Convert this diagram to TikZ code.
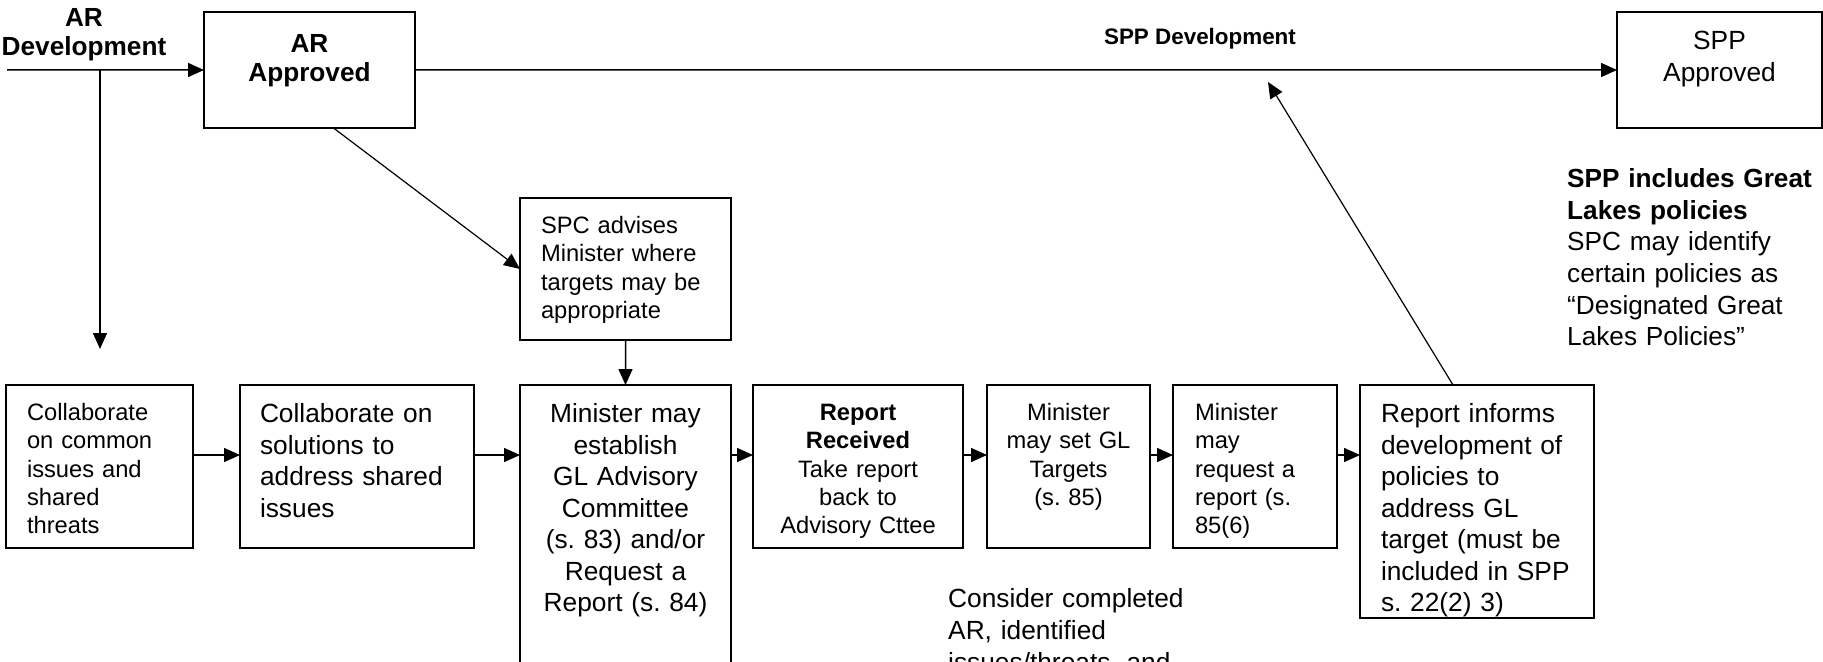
\documentclass[tikz,border=0pt]{standalone}
\usepackage{fontspec}
\setmainfont{Liberation Sans}
\usetikzlibrary{arrows.meta}
\frenchspacing

\begin{document}
\begin{tikzpicture}[x=1bp, y=-1bp,
	box/.style={draw, line width=1.5bp, anchor=north west, inner ysep=0pt, outer sep=0pt},
	small/.style={font=\fontsize{23.8}{28.4}\selectfont, text height=35.5bp},
	big/.style={font=\fontsize{26.4}{31.7}\selectfont, text height=37.5bp},
	heavy/.style={font=\bfseries\fontsize{26.3}{29.5}\selectfont},
	flow/.style={-{Triangle[length=16bp,width=14bp]}, line width=1.5bp},
	note/.style={inner sep=0pt, anchor=base west, align=left}]
	\useasboundingbox (0,0) rectangle (1823,662);
	% top row
	\node[box, heavy, text height=40.5bp, text depth=75.5bp, text width=195bp, inner xsep=8bp, align=center] (arapp) at (204,12) {AR\\ Approved};
	\node[box, big, text depth=78.5bp, text width=189bp, inner xsep=8bp, align=center] (sppapp) at (1617,12) {SPP\\ Approved};
	\node[heavy, inner sep=0pt, text width=170bp, align=center, anchor=base] (ardev) at (84,26.5) {AR\\ Development};
	\node[font=\bfseries\fontsize{22.5}{27}\selectfont, inner sep=0pt, anchor=base] (sppdev) at (1200,45) {SPP Development};
	\node[box, small, text depth=106.5bp, text width=169bp, inner xsep=21bp, align=left] (spc) at (520,198) {SPC advises\\ Minister where\\ targets may be\\ appropriate};
	% bottom row
	\node[box, small, text depth=127.5bp, text width=145bp, inner xsep=21bp, align=left] (common) at (6,385) {Collaborate\\ on common\\ issues and\\ shared\\ threats};
	\node[box, big, text depth=125.5bp, text width=194bp, inner xsep=20bp, align=left] (solutions) at (240,385) {Collaborate on\\ solutions to\\ address shared\\ issues};
	\node[box, big, text depth=300bp, text width=195bp, inner xsep=8bp, align=center] (establish) at (520,385) {Minister may\\ establish\\ GL Advisory\\ Committee\\ (s. 83) and/or\\ Request a\\ Report (s. 84)};
	\node[box, small, text depth=127.5bp, text width=194bp, inner xsep=8bp, align=center] (received) at (753,385) {\textbf{Report}\\ \textbf{Received}\\ Take report\\ back to\\ Advisory Cttee};
	\node[box, small, text depth=127.5bp, text width=147bp, inner xsep=8bp, align=center] (targets) at (987,385) {Minister\\ may set GL\\ Targets\\ (s. 85)};
	\node[box, small, text depth=127.5bp, text width=120bp, inner xsep=22bp, align=left] (request) at (1173,385) {Minister\\ may\\ request a\\ report (s.\\ 85(6)};
	\node[box, big, text depth=195.5bp, text width=192bp, inner xsep=21bp, align=left] (informs) at (1360,385) {Report informs\\ development of\\ policies to\\ address GL\\ target (must be\\ included in SPP\\ s. 22(2) 3)};
	% side notes
	\node[note, font=\fontsize{26.3}{31.8}\selectfont, text width=256bp] (greatlakes) at (1567,187.5) {\textbf{SPP includes Great}\\ \textbf{Lakes policies}\\ SPC may identify\\ certain policies as\\ “Designated Great\\ Lakes Policies”};
	\node[note, font=\fontsize{26.4}{32}\selectfont, text width=300bp] (consider) at (948,607.5) {Consider completed\\ AR, identified\\ issues/threats, and};
	% connectors
	\coordinate (start) at (7,70);
	\coordinate (split) at (100,70);
	\coordinate (down) at (100,349);
	\coordinate (back) at (1268,82);
	\draw[flow] (start) -- (arapp.west);
	\draw[flow] (split) -- (down);
	\draw[flow] (arapp.east) -- (sppapp.west);
	\draw[flow, line width=1.2bp] ([xshift=24bp]arapp.south) -- (spc.west);
	\draw[flow] (spc.south) -- (establish.north);
	\foreach \a/\b in {common/solutions, solutions/establish, establish/received, received/targets, targets/request, request/informs}
		\draw[flow] ([yshift=-70bp]\a.north east) -- ([yshift=-70bp]\b.north west);
	\draw[flow, line width=1.2bp] ([xshift=-24bp]informs.north) -- (back);
\end{tikzpicture}
\end{document}
